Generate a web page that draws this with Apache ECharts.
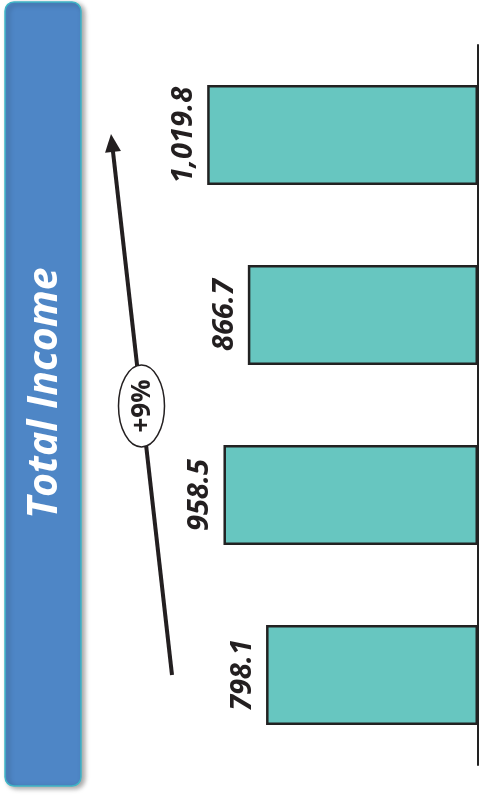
<!DOCTYPE html>
<html>
<head>
<meta charset="utf-8">
<script src="https://cdn.jsdelivr.net/npm/echarts@6/dist/echarts.min.js"></script>
<style>
  html, body { margin: 0; padding: 0; background: #fff; }
  #chart { width: 479px; height: 796px; }
</style>
</head>
<body>
<div id="chart"></div>
<script>
// data (first category sits at the bottom, the chart is turned on its side)
const periods = ['P1', 'P2', 'P3', 'P4'];
const income = [798.1, 958.5, 866.7, 1019.8];
const titleText = 'Total Income';
const growthText = '+9%';

const chart = echarts.init(document.getElementById('chart'));
const font = '"Open Sans", "Liberation Sans", sans-serif';

// arrow from bottom-left up to the top
const arrowFrom = [172, 675];
const arrowTo = [111, 134];
function arrowHead(from, to, len, half) {
  const dx = to[0] - from[0], dy = to[1] - from[1];
  const l = Math.sqrt(dx * dx + dy * dy);
  const ux = dx / l, uy = dy / l;
  const bx = to[0] - ux * len, by = to[1] - uy * len;
  return [
    [to[0], to[1]],
    [bx - uy * half, by + ux * half],
    [bx + uy * half, by - ux * half]
  ];
}
const head = arrowHead(arrowFrom, arrowTo, 18, 8);
const lineEnd = [arrowTo[0] + (arrowFrom[0] - arrowTo[0]) * 14 / 541, arrowTo[1] + (arrowFrom[1] - arrowTo[1]) * 14 / 541];

const option = {
  animation: false,
  grid: { left: 0, right: 1, top: 45, bottom: 31 },
  xAxis: {
    type: 'value',
    inverse: true,
    min: 0,
    max: 1800,
    show: false
  },
  yAxis: {
    type: 'category',
    data: periods,
    position: 'right',
    axisLine: { lineStyle: { color: '#222', width: 2 } },
    axisTick: { show: false },
    axisLabel: { show: false },
    splitLine: { show: false }
  },
  series: [
    {
      type: 'bar',
      data: income,
      barWidth: 100,
      itemStyle: { color: '#67C6C0', borderColor: '#222', borderWidth: 2.5 },
      label: {
        show: true,
        position: 'left',
        distance: 9,
        rotate: 90,
        align: 'center',
        verticalAlign: 'bottom',
        color: '#231f20',
        fontFamily: font,
        fontWeight: 'bold',
        fontStyle: 'italic',
        fontSize: 29,
        formatter: p => p.value.toLocaleString('en-US', { minimumFractionDigits: 1 })
      }
    }
  ],
  graphic: [
    // title panel
    {
      type: 'rect',
      shape: { x: 5, y: 2, width: 76, height: 784, r: 9 },
      style: {
        fill: '#4E86C6',
        stroke: '#3FB5C6',
        lineWidth: 1.5,
        shadowBlur: 5,
        shadowOffsetX: 3,
        shadowOffsetY: 2,
        shadowColor: 'rgba(0,0,0,0.35)'
      }
    },
    {
      type: 'text',
      x: 45,
      y: 393,
      rotation: Math.PI / 2,
      style: {
        text: titleText,
        fill: '#fff',
        font: 'italic bold 41px ' + font,
        align: 'center',
        verticalAlign: 'middle'
      }
    },
    // growth arrow
    {
      type: 'line',
      shape: { x1: arrowFrom[0], y1: arrowFrom[1], x2: lineEnd[0], y2: lineEnd[1] },
      style: { stroke: '#231f20', lineWidth: 4 }
    },
    {
      type: 'polygon',
      shape: { points: head },
      style: { fill: '#231f20' }
    },
    {
      type: 'ellipse',
      shape: { cx: 141.5, cy: 406, rx: 23, ry: 41 },
      style: { fill: '#fff', stroke: '#231f20', lineWidth: 1.5 }
    },
    {
      type: 'text',
      x: 143,
      y: 406,
      rotation: Math.PI / 2,
      style: {
        text: growthText,
        fill: '#231f20',
        font: 'bold 26px ' + font,
        align: 'center',
        verticalAlign: 'middle'
      }
    }
  ]
};
chart.setOption(option);
</script>
</body>
</html>
